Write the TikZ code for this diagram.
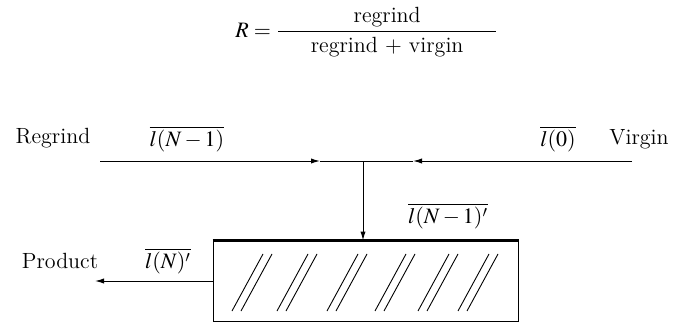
\documentclass[tikz,border=0pt]{standalone}
\usepackage{amsmath}
\usepackage{mathptmx}
\usetikzlibrary{arrows.meta,positioning,calc}

\begin{document}
\begin{tikzpicture}[
  x=0.5pt, y=-0.5pt,
  font=\fontsize{11}{13}\selectfont,
  line/.style={line width=0.5pt, draw=black},
  flow/.style={-{Latex[length=4.5pt,width=2.6pt]}, line width=0.5pt, draw=black},
  lbl/.style={inner sep=0pt, anchor=center},
  hatch/.style={line width=0.45pt, draw=black}
]
\useasboundingbox (0,0) rectangle (674,326);

% ratio
\node[lbl] (ratio) at (367,32)
  {$R=\dfrac{\text{regrind}}{\hbox to 109pt{\hfil regrind + virgin\hfil}}$};

% feed line
\coordinate (regin) at (100,161);
\coordinate (ra) at (320,161);
\coordinate (junc) at (363,161);
\coordinate (va) at (413,161);
\coordinate (virgin) at (632,161);

\node[lbl] (regrind) at (53,138) {Regrind};
\node[lbl] (lprev) at (187,139) {$\overline{l(N-1)}$};
\node[lbl] (lzero) at (558,139) {$\overline{l(0)}$};
\node[lbl] (virg) at (639,139) {Virgin};

\draw[flow] (regin) -- (ra);
\draw[line] (ra) -- (junc);
\draw[flow] (virgin) -- (va);
\draw[line] (va) -- (junc);

% mixer
\node[draw, line width=0.5pt, inner sep=0pt, minimum width=152.5pt,
  minimum height=40pt] (box) at (365.5,281) {};
\draw[line width=1.1pt] (box.north west) -- (box.north east);
\foreach \hx in {232,277,327,375,418,458} {
  \draw[hatch] (\hx,311) -- ++(31,-57);
  \draw[hatch] (\hx+9,311) -- ++(31,-57);
}
\draw[flow] (junc) -- (junc |- box.north);
\node[lbl] (lmix) at (448,216) {$\overline{l(N-1)'}$};

% product
\coordinate (prod) at (95,281);
\draw[flow] (box.west) -- (prod);
\node[lbl] (product) at (60,261) {Product};
\node[lbl] (lout) at (168,261) {$\overline{l(N)'}$};

\end{tikzpicture}
\end{document}
